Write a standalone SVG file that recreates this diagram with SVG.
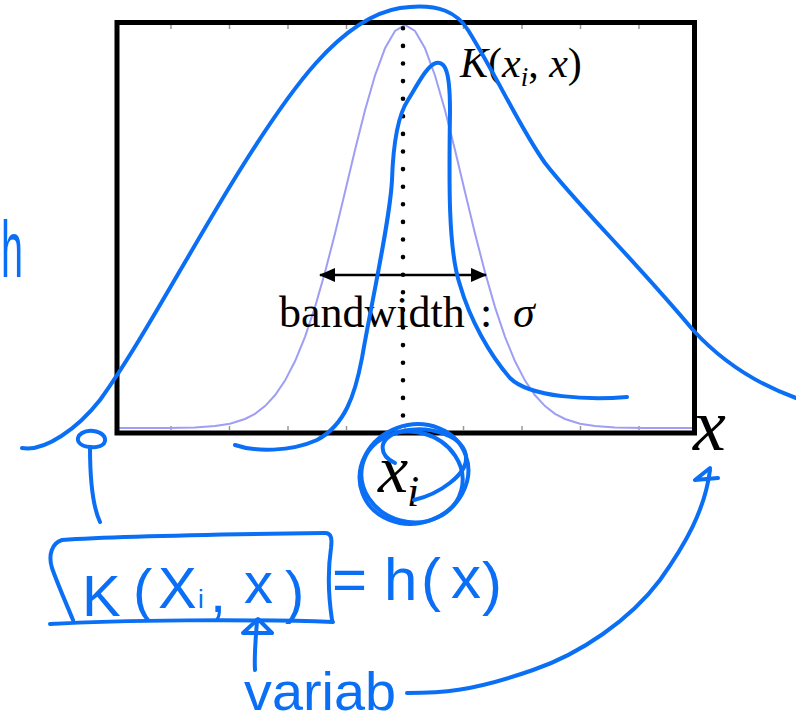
<svg xmlns="http://www.w3.org/2000/svg" width="796" height="721" viewBox="0 0 796 721">
<defs>
<style>
.serif{font-family:"Liberation Serif","Times New Roman",serif;fill:#000}
.it{font-style:italic}
.hw{font-family:"Liberation Sans","DejaVu Sans",sans-serif;fill:#0b6ff5}
.pen{fill:none;stroke:#0b6ff5;stroke-width:4;stroke-linecap:round;stroke-linejoin:round}
.tick{stroke:#999;stroke-width:1.5}
</style>
<marker id="ah" viewBox="0 0 16 14" refX="15" refY="7" markerWidth="16" markerHeight="14" markerUnits="userSpaceOnUse" orient="auto-start-reverse">
<path d="M0,0 L16,7 L0,14 Z" fill="#000"/>
</marker>
</defs>
<rect width="796" height="721" fill="#fff"/>

<g id="plot">
<g class="tick">
<path d="M171,25v4M229.5,25v4M288,25v4M346.5,25v4M463.5,25v4M522,25v4M580.5,25v4M639,25v4"/>
<path d="M171,430v-4M229.5,430v-4M288,430v-4M346.5,430v-4M405,430v-4M463.5,430v-4M522,430v-4M580.5,430v-4M639,430v-4"/>
</g>
<polyline fill="none" stroke="#9e9ef5" stroke-width="2" points="119,428 165,428 195,427.4 215,426.1 230,423.8 245,419 255,413.8 265,406.1 275,395.3 285,380.6 295,361.3 305,336.8 315,307.1 325,272.3 335,233.5 345,192 355,150.1 365,110.3 375,75.5 385,48.3 395,31 405,25 415,31 425,48.3 435,75.5 445,110.3 455,150.1 465,192 475,233.5 485,272.3 495,307.1 505,336.8 515,361.3 525,380.6 535,395.3 545,406.1 555,413.8 565,419 580,423.8 595,426.1 615,427.4 645,428 692,428"/>
<line x1="403" y1="28.3" x2="403" y2="416" stroke="#000" stroke-width="4.6" stroke-linecap="round" stroke-dasharray="0 17.6"/>
<rect x="117" y="22.5" width="577.5" height="410.5" fill="none" stroke="#000" stroke-width="5"/>
<line x1="320" y1="275" x2="486" y2="275" stroke="#000" stroke-width="2.5" marker-start="url(#ah)" marker-end="url(#ah)"/>
</g>

<g id="labels">
<text class="serif" x="460" y="77" font-size="42"><tspan class="it">K</tspan>(<tspan class="it">x</tspan><tspan class="it" font-size="27" dy="9">i</tspan><tspan dy="-9">, </tspan><tspan class="it">x</tspan>)</text>
<text class="serif" x="279" y="327" font-size="44">bandwidth <tspan x="480">:</tspan> <tspan x="513" class="it">σ</tspan></text>
<text class="serif it" x="693" y="450" font-size="74">x</text>
<text class="serif it" x="378" y="492" font-size="68">x<tspan x="407" y="506" font-size="44">i</tspan></text>
</g>

<g id="annotations">
<path class="pen" d="M22,448 C45,452 78,428 100,400 C140,345 190,250 240,170 C290,90 340,18 400,8 C440,2 458,14 468,30 C500,82 520,128 545,163 C580,208 630,255 693,330 C725,365 760,385 796,398"/>
<path class="pen" d="M235,445 C255,452 290,452 317,440 C345,425 355,395 362,358 C372,300 390,220 392,180 C393,150 396,118 408,100 C420,80 428,65 436,63 C448,60 450,82 450,112 C449,180 448,250 460,285 C470,320 490,355 510,378 C530,398 590,400 627,397"/>
<ellipse class="pen" cx="414" cy="474" rx="55" ry="49" transform="rotate(-20 414 474)"/>
<ellipse class="pen" cx="412" cy="477" rx="51" ry="45" transform="rotate(15 412 477)"/>
<path class="pen" d="M395,463 C380,456 376,440 398,432 C430,424 466,436 466,458 C467,474 440,494 414,500"/>
<text class="hw" x="1" y="277" font-size="80" textLength="22" lengthAdjust="spacingAndGlyphs">h</text>
<path class="pen" d="M100,522 C92,505 90,470 90,447 M91,447 C78,447 74,438 82,433 C90,428 104,432 105,439 C106,446 96,448 91,447"/>
<path class="pen" d="M62,540 C120,536 250,534 325,533 C332,533 332,540 331,548 C327,575 329,600 332,620 M62,540 C52,543 48,555 52,568 C58,585 66,603 73,620 M50,624 C120,620 250,619 333,622"/>
<text class="hw" font-size="58"><tspan x="82" y="616">K</tspan><tspan x="133" y="610">(</tspan><tspan x="158" y="608">X</tspan><tspan x="198" y="608" font-size="26">i</tspan><tspan x="210" y="612">,</tspan><tspan x="244" y="603">x</tspan><tspan x="285" y="612">)</tspan></text>
<text class="hw" font-size="60"><tspan x="332" y="600">=</tspan><tspan x="384" y="600">h</tspan><tspan x="421" y="600">(</tspan><tspan x="451" y="598">x</tspan><tspan x="482" y="604">)</tspan></text>
<path class="pen" d="M255,670 C254,655 256,635 257,621 M243,633 L258,619 L272,633 Z"/>
<text class="hw" x="244" y="710" font-size="54" textLength="152" lengthAdjust="spacingAndGlyphs">variab</text>
<path class="pen" d="M407,693 C440,693 470,692 533,670 C580,654 630,620 660,580 C685,545 705,510 710,470 M710,468 L695,480 L718,478"/>
</g>
</svg>
